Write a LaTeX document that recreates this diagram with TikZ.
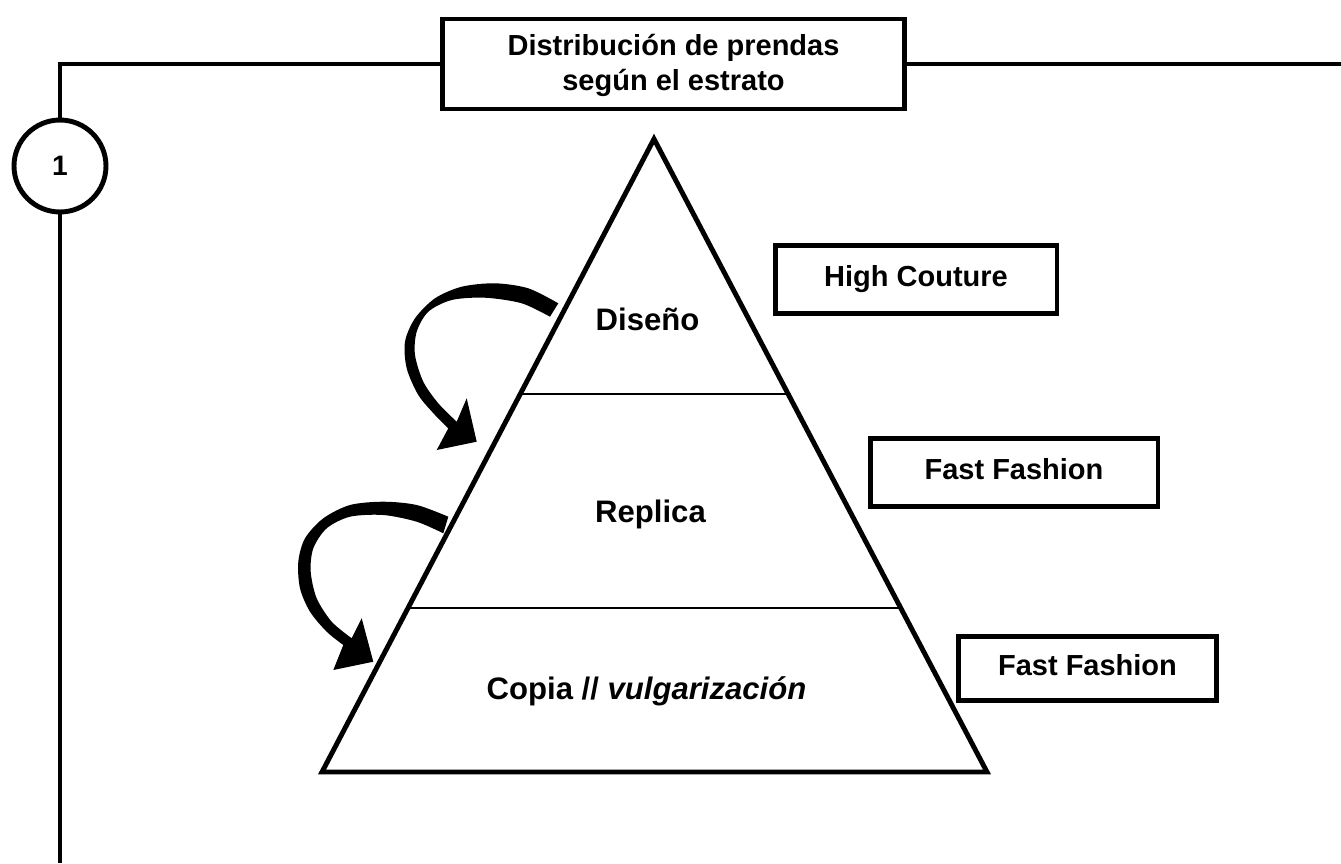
\documentclass[tikz,border=0pt]{standalone}
\usepackage{fontspec}
\setmainfont{Liberation Sans}
\usetikzlibrary{positioning,calc}

\begin{document}
\begin{tikzpicture}[x=0.02cm, y=-0.02cm, line width=2.8pt, line join=miter]
\tikzstyle{titlebox}=[draw, rectangle, align=center, inner sep=0pt, font=\bfseries\fontsize{16.5}{19.8}\selectfont]
\tikzstyle{block}=[draw, rectangle, align=center, inner sep=0pt, text height=12pt, text depth=3.5pt, font=\bfseries\fontsize{16.5}{19.8}\selectfont]
\tikzstyle{tier}=[anchor=base, inner sep=0pt, font=\bfseries\fontsize{17.7}{21}\selectfont]
\tikzstyle{divider}=[line width=0.85pt]
\useasboundingbox (0,0) rectangle (1341,863);
\node[titlebox, minimum width=9.24cm, minimum height=1.8cm] (title) at (673.5,64) {\rule{0pt}{14pt}Distribución de prendas\\según el estrato};
\node[draw, circle, minimum size=1.84cm, inner sep=0pt, font=\bfseries\fontsize{16}{19}\selectfont] (num) at (60,166) {1};
\coordinate (rightend) at (1341,64);
\coordinate (bottomend) at (60,863);
\draw (num.north) |- (title.west);
\draw (title.east) -- (rightend);
\draw (num.south) -- (bottomend);
% pyramid
\coordinate (apex) at (654,139);
\coordinate (bl) at (322,772);
\coordinate (br) at (987,772);
\draw (apex) -- (br) -- (bl) -- cycle;
\draw[divider] ($(apex)!0.403!(bl)$) -- ($(apex)!0.403!(br)$);
\draw[divider] ($(apex)!0.741!(bl)$) -- ($(apex)!0.741!(br)$);
\node[tier] (design) at (647.5,330.7) {Diseño};
\node[tier] (replica) at (650.5,522.7) {Replica};
\node[tier] (copy) at (646.5,699.3) {Copia // \textit{vulgarización}};
% side labels
\node[block, minimum width=5.64cm, minimum height=1.36cm] (high) at (916,279.5) {High Couture};
\node[block, minimum width=5.76cm, minimum height=1.36cm] (fast1) at (1014,472.5) {Fast Fashion};
\node[block, minimum width=5.16cm, minimum height=1.28cm] (fast2) at (1087.5,668.5) {Fast Fashion};
% curved arrows
\fill plot[smooth] coordinates {(558.3,303.3) (528.3,288.3) (495,283.3) (461.7,286.7) (435,298.3) (415,318.3) (405,341.7) (406.7,368.3) (418.3,395) (435,415) (448.3,428.3)}
  -- (436.7,450) -- (476.7,441.7) -- (466.7,398.3)
  -- plot[smooth] coordinates {(456.7,421.7) (438.3,403.3) (423.3,381.7) (415,355) (416.7,331.7) (428.3,311.7) (451.7,300) (485,297.7) (521.7,303.3) (550,316.7)} -- cycle;
\fill plot[smooth] coordinates {(448.3,516.7) (416.7,505) (383.3,501.7) (350,505) (323.3,518.3) (305,538.3) (298.3,561.7) (300,588.3) (310,611.7) (326.7,631.7) (343.3,645)}
  -- (333.3,670) -- (373.3,661.7) -- (361.7,618.3)
  -- plot[smooth] coordinates {(351.7,638.3) (331.7,621.7) (316.7,598.3) (310.7,571.7) (313.3,548.3) (326.7,528.3) (350,516.7) (383.3,515) (416.7,521.7) (443.3,533.3)} -- cycle;
\end{tikzpicture}
\end{document}
